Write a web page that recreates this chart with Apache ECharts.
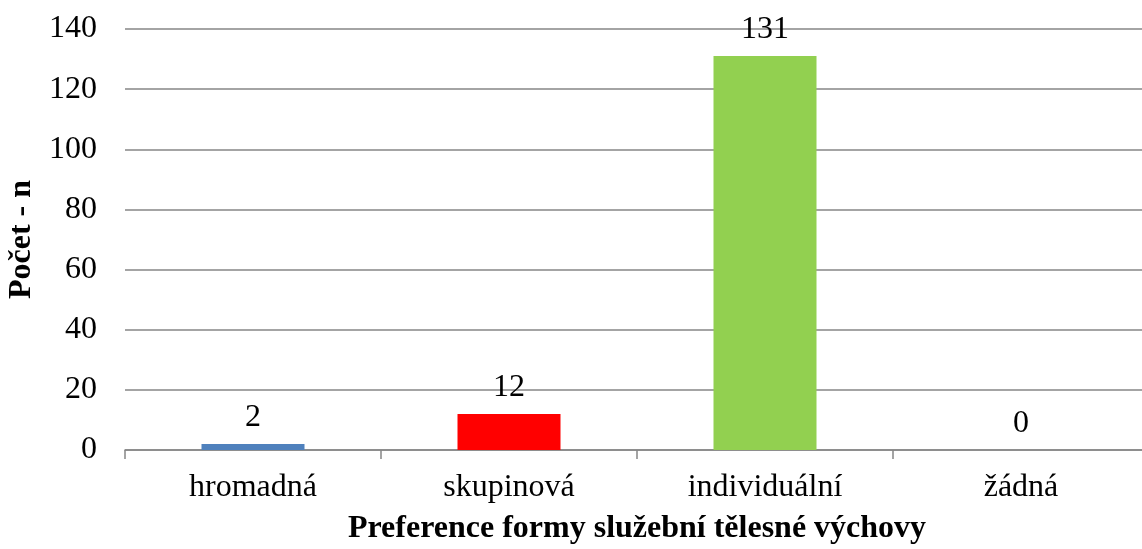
<!DOCTYPE html>
<html>
<head>
<meta charset="utf-8">
<script src="https://cdn.jsdelivr.net/npm/echarts@6/dist/echarts.min.js"></script>
<style>
html,body{margin:0;padding:0;background:#fff;}
#chart{width:1142px;height:549px;}
</style>
</head>
<body>
<div id="chart"></div>
<script>
// Preference of the form of service physical education
const categories = ['hromadná', 'skupinová', 'individuální', 'žádná'];
const counts = [2, 12, 131, 0];
const barColors = ['#4F81BD', '#FF0000', '#92D050', '#9BBB59'];
const yTicks = { min: 0, max: 140, interval: 20 };
const xTitle = 'Preference formy služební tělesné výchovy';
const yTitle = 'Počet - n';

const font = '"Liberation Serif", "Times New Roman", serif';
const chart = echarts.init(document.getElementById('chart'));
chart.setOption({
  animation: false,
  grid: { left: 125, right: -7, top: 29, bottom: 99, containLabel: false, outerBoundsMode: 'none' },
  xAxis: {
    type: 'category',
    data: categories,
    name: xTitle,
    nameLocation: 'middle',
    nameGap: 63,
    nameTextStyle: { fontFamily: font, fontSize: 32, fontWeight: 'bold', color: '#000' },
    axisLine: { lineStyle: { color: '#868686', width: 1.5 } },
    axisTick: { show: true, length: 9, lineStyle: { color: '#868686', width: 1.5 } },
    axisLabel: { fontFamily: font, fontSize: 32, color: '#000', margin: 22 }
  },
  yAxis: {
    type: 'value',
    min: yTicks.min,
    max: yTicks.max,
    interval: yTicks.interval,
    name: yTitle,
    nameLocation: 'middle',
    nameGap: 80,
    nameTextStyle: { fontFamily: font, fontSize: 32, fontWeight: 'bold', color: '#000' },
    axisLine: { show: false },
    axisTick: { show: false },
    axisLabel: { fontFamily: font, fontSize: 32, color: '#000', margin: 28 },
    splitLine: { lineStyle: { color: '#868686', width: 1.5 } }
  },
  series: [{
    type: 'bar',
    barWidth: 103,
    data: counts.map((v, i) => ({ value: v, itemStyle: { color: barColors[i] } })),
    label: {
      show: true,
      position: 'top',
      distance: 10,
      fontFamily: font,
      fontSize: 32,
      color: '#000'
    }
  }]
});
</script>
</body>
</html>
